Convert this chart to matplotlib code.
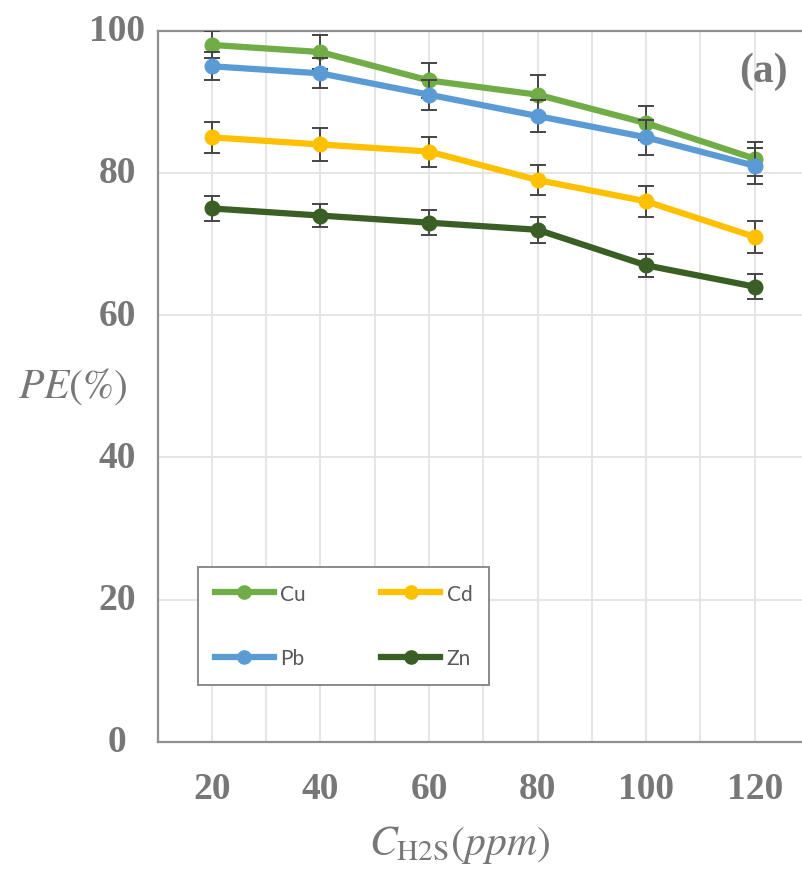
import matplotlib
matplotlib.use("Agg")
import matplotlib.pyplot as plt
from matplotlib.lines import Line2D
from matplotlib.transforms import ScaledTranslation

# H2S concentration (ppm)
conc = [20, 40, 60, 80, 100, 120]

# Precipitation efficiency (%) per metal and standard deviations
series_names = ["Cu", "Cd", "Pb", "Zn"]
cu = [98, 97, 93, 91, 87, 82]
cd = [85, 84, 83, 79, 76, 71]
pb = [95, 94, 91, 88, 85, 81]
zn = [75, 74, 73, 72, 67, 64]
cu_err = [1.9, 2.4, 2.5, 2.7, 2.4, 2.4]
cd_err = [2.2, 2.3, 2.1, 2.1, 2.2, 2.3]
pb_err = [2.0, 2.1, 2.1, 2.3, 2.5, 2.5]
zn_err = [1.7, 1.6, 1.8, 1.8, 1.6, 1.8]

x_ticks = [20, 40, 60, 80, 100, 120]
y_ticks = [0, 20, 40, 60, 80, 100]

colors = {"Cu": "#70AD47", "Cd": "#FFC000", "Pb": "#5B9BD5", "Zn": "#3A5F25"}
values = {"Cu": cu, "Cd": cd, "Pb": pb, "Zn": zn}
errors = {"Cu": cu_err, "Cd": cd_err, "Pb": pb_err, "Zn": zn_err}

TXT = "#777777"
W, H = 802, 879
fig = plt.figure(figsize=(W / 100, H / 100), dpi=100)

x0, xr, ytop, ybot = 157.5, 802.0, 31.7, 742.7
ax = fig.add_axes([x0 / W, 1 - ybot / H, (xr - x0) / W, (ybot - ytop) / H])
ax.set_xlim(10, 128.7)
ax.set_ylim(0, 100)

# grid: vertical every 10 ppm, horizontal every 20 %
ax.set_xticks(x_ticks)
ax.set_xticks([30, 50, 70, 90, 110], minor=True)
ax.set_yticks(y_ticks)
ax.grid(True, which="both", axis="x", color="#e3e3e3", lw=1.3)
ax.grid(True, which="major", axis="y", color="#e3e3e3", lw=1.3)
ax.set_axisbelow(True)

for side in ("left", "bottom", "top"):
    ax.spines[side].set_color("#8f8f8f")
    ax.spines[side].set_linewidth(1.6)
ax.spines["right"].set_visible(False)

for i, name in enumerate(series_names):
    ax.errorbar(conc, values[name], yerr=errors[name], color=colors[name],
                lw=4.5, marker="o", ms=10.5, ecolor="#454545", elinewidth=1.4,
                capsize=5.5, capthick=1.4, zorder=3 + i)

ax.tick_params(axis="both", which="both", length=0)
ax.tick_params(axis="x", pad=21)
ax.tick_params(axis="y", pad=29)
tick_font = dict(family="Liberation Serif", weight="bold", size=27)
ax.set_xticklabels([str(v) for v in x_ticks], color=TXT, **tick_font)
ax.set_yticklabels([str(v) for v in y_ticks], color=TXT, **tick_font)
shift = ScaledTranslation(0, 4 / 100, fig.dpi_scale_trans)
for lab in ax.get_yticklabels():
    lab.set_ha("center")
    lab.set_transform(lab.get_transform() + shift)

plt.rcParams["mathtext.fontset"] = "stix"
fig.text(460 / W, 1 - 845 / H, r"$C_{\mathrm{H2S}}(ppm)$", color=TXT,
         fontsize=30, ha="center", va="center")
fig.text(73 / W, 1 - 386 / H, r"$PE\mathrm{(\%)}$", color=TXT,
         fontsize=30, ha="center", va="center")
fig.text(763 / W, 1 - 72 / H, "(a)", color=TXT, family="Liberation Serif",
         weight="bold", fontsize=30, ha="center", va="center")

# legend in row order Cu, Cd / Pb, Zn
order = ["Cu", "Pb", "Cd", "Zn"]
handles = [Line2D([], [], color=colors[n], lw=4.5, marker="o", ms=9.5) for n in order]
leg = ax.legend(handles, order, ncol=2, loc="upper left",
                bbox_to_anchor=(198 / W, 1 - 568 / H), bbox_transform=fig.transFigure,
                borderaxespad=0, prop=dict(family="Lato", size=15),
                handlelength=2.85, handletextpad=0.3, columnspacing=3.6,
                labelspacing=2.15, borderpad=0.8, fancybox=False, framealpha=1)
leg.get_frame().set_edgecolor("#8a8a8a")
leg.get_frame().set_linewidth(1.4)
for t in leg.get_texts():
    t.set_color("#595959")

fig.savefig("out.png", dpi=100)
